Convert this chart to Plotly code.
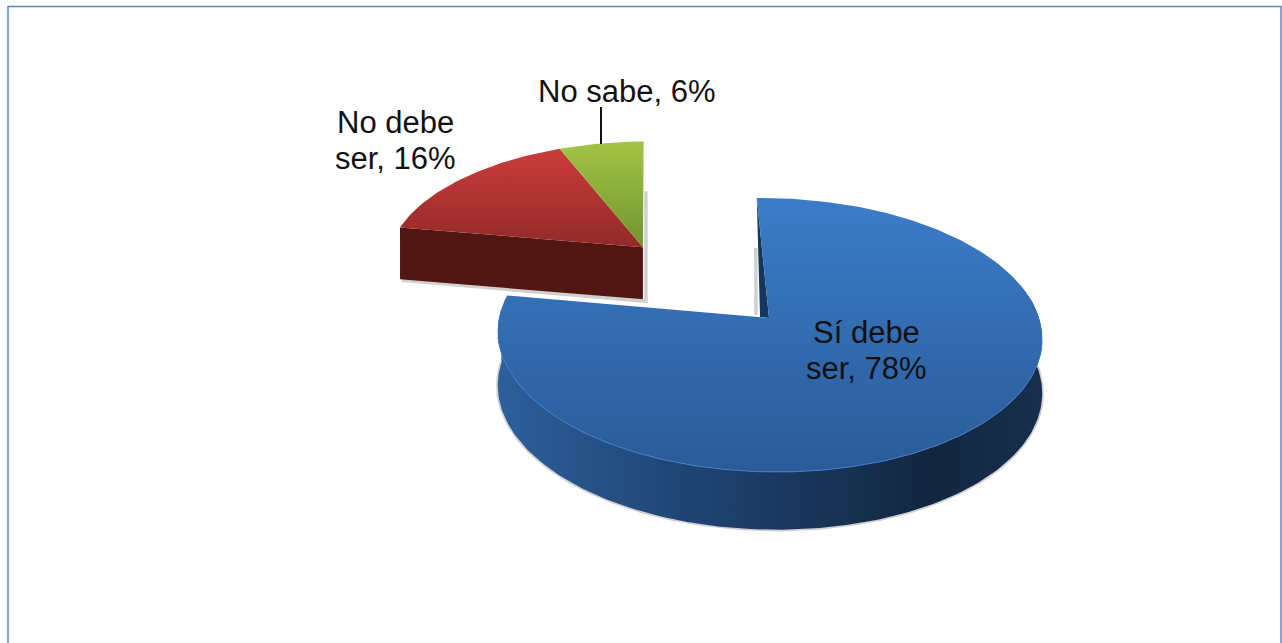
import math
import plotly.graph_objects as go

categories = ["Sí debe ser", "No debe ser", "No sabe"]
values = [78, 16, 6]
label_lines = [["Sí debe", "ser, 78%"], ["No debe", "ser, 16%"], ["No sabe, 6%"]]
exploded = [False, True, True]
top_colors = [["#3b7cc9", "#2a5b98"], ["#cc3c3a", "#922a29"], ["#a3c545", "#72932f"]]
side_colors = ["#2d5f9b", "#521612", "#5b7a25"]

# projection of the tilted pie onto the page
CX, CY, KX, KY, P, DEPTH, SKEW = 769, 318, 270, 134.9, 0.124, 54, 8
START = -1.0
EXPLODE = 0.74


def project(u, v, h=0.0):
    s = 1 / (1 - P * v)
    return CX + KX * u * s + SKEW * v, CY + KY * v * s + h * DEPTH * s ** 0.5


def rim(ang, off=(0, 0), h=0.0):
    a = math.radians(ang)
    return project(math.sin(a) + off[0], -math.cos(a) + off[1], h)


def arc(a0, a1, off=(0, 0), h=0.0, step=1.0):
    n = max(2, int(abs(a1 - a0) / step))
    return [rim(a0 + (a1 - a0) * i / n, off, h) for i in range(n + 1)]


def poly(points, closed=True, **kw):
    xs = [p[0] for p in points]
    ys = [p[1] for p in points]
    if closed:
        xs.append(xs[0])
        ys.append(ys[0])
    return go.Scatter(x=xs, y=ys, mode="lines", hoverinfo="skip", showlegend=False, **kw)


total = sum(values)
spans = []
a = START
for val in values:
    spans.append((a, a + 360 * val / total))
    a += 360 * val / total

# explosion offset shared by the two pulled slices
ex_a0 = min(s[0] for s, e in zip(spans, exploded) if e)
ex_a1 = max(s[1] for s, e in zip(spans, exploded) if e)
mid = math.radians((ex_a0 + ex_a1) / 2)
offs = [(EXPLODE * math.sin(mid), -EXPLODE * math.cos(mid)) if e else (0, 0) for e in exploded]

shadow = dict(color="rgba(110,110,110,0.32)", width=3.5)
traces = []

# --- blue slice -------------------------------------------------------------
a0, a1 = spans[0]
front = arc(90 - 12, 270 + 4)
front_low = arc(90 - 12, 270 + 4, h=1.0)
traces.append(poly(front_low, closed=False, line=shadow))
traces.append(
    poly(
        front + front_low[::-1],
        fill="toself",
        line=dict(width=0),
        fillgradient=dict(
            type="horizontal",
            colorscale=[[0, "#2d5f9b"], [0.35, "#1f4474"], [0.8, "#12263f"], [1, "#172f4e"]],
        ),
    )
)
ax, ay = project(0, 0)
rx, ry = rim(a0)
traces.append(poly([(ax - 13, ay - 3), (rx - 1, ry + 50)], closed=False, line=shadow))
traces.append(poly([(rx, ry), (ax, ay), (ax - 9, ay - 1)], fill="toself", line=dict(width=0), fillcolor="#16365c"))
traces.append(
    poly(
        [(ax, ay)] + arc(a0, a1),
        fill="toself",
        line=dict(width=0),
        fillgradient=dict(type="vertical", colorscale=[[0, top_colors[0][1]], [1, top_colors[0][0]]]),
    )
)
traces.append(poly(arc(100, 262), closed=False, line=dict(color="#3f7cc6", width=1)))

# --- pulled slices ----------------------------------------------------------
r0, r1 = spans[1]
g0, g1 = spans[2]
off = offs[1]
apex = project(off[0], off[1])
apex_low = project(off[0], off[1], 1.0)
left = rim(r0, off)
left_low = rim(r0, off, 1.0)
traces.append(poly([(left_low[0] + 2, left_low[1] + 1), (apex_low[0] + 3, apex_low[1] + 2),
                    (apex_low[0] + 3, apex_low[1] - 108)], closed=False, line=shadow))
traces.append(poly([left, apex, apex_low, left_low], fill="toself", line=dict(width=0), fillcolor=side_colors[1]))
for idx, (s0, s1) in ((1, (r0, r1)), (2, (g0, g1))):
    traces.append(
        poly(
            [apex] + arc(s0, s1, off),
            fill="toself",
            line=dict(width=0),
            fillgradient=dict(type="vertical", colorscale=[[0, top_colors[idx][1]], [1, top_colors[idx][0]]]),
        )
    )

fig = go.Figure(traces)

# --- labels -----------------------------------------------------------------
LABEL_POS = [(866, 332), (395, 122), (627, 91)]
LINE_STEP = 36
for lines, (lx, ly) in zip(label_lines, LABEL_POS):
    for i, line in enumerate(lines):
        fig.add_annotation(
            x=lx, y=ly + i * LINE_STEP, text=line, showarrow=False, xref="x", yref="y",
            xanchor="center", yanchor="middle",
            font=dict(family="Liberation Sans, Arial", size=31, color="#111111"),
        )

# leader of the small slice
fig.add_shape(type="line", x0=601, x1=601, y0=107, y1=144, line=dict(color="#111111", width=2))
# chart frame, running past the bottom of the picture
fig.add_shape(type="path", path="M 8 700 L 8 6.5 L 1281 6.5 L 1281 700",
              line=dict(color="#5b86c0", width=1.5))

fig.update_layout(
    width=1282, height=643, margin=dict(l=0, r=0, t=0, b=0),
    paper_bgcolor="white", plot_bgcolor="white", showlegend=False,
    xaxis=dict(range=[0, 1282], visible=False, fixedrange=True),
    yaxis=dict(range=[643, 0], visible=False, fixedrange=True),
)
fig.write_html("out.html", config={"displayModeBar": False},
               post_script="document.body.style.margin='0';document.body.style.overflow='hidden';")
